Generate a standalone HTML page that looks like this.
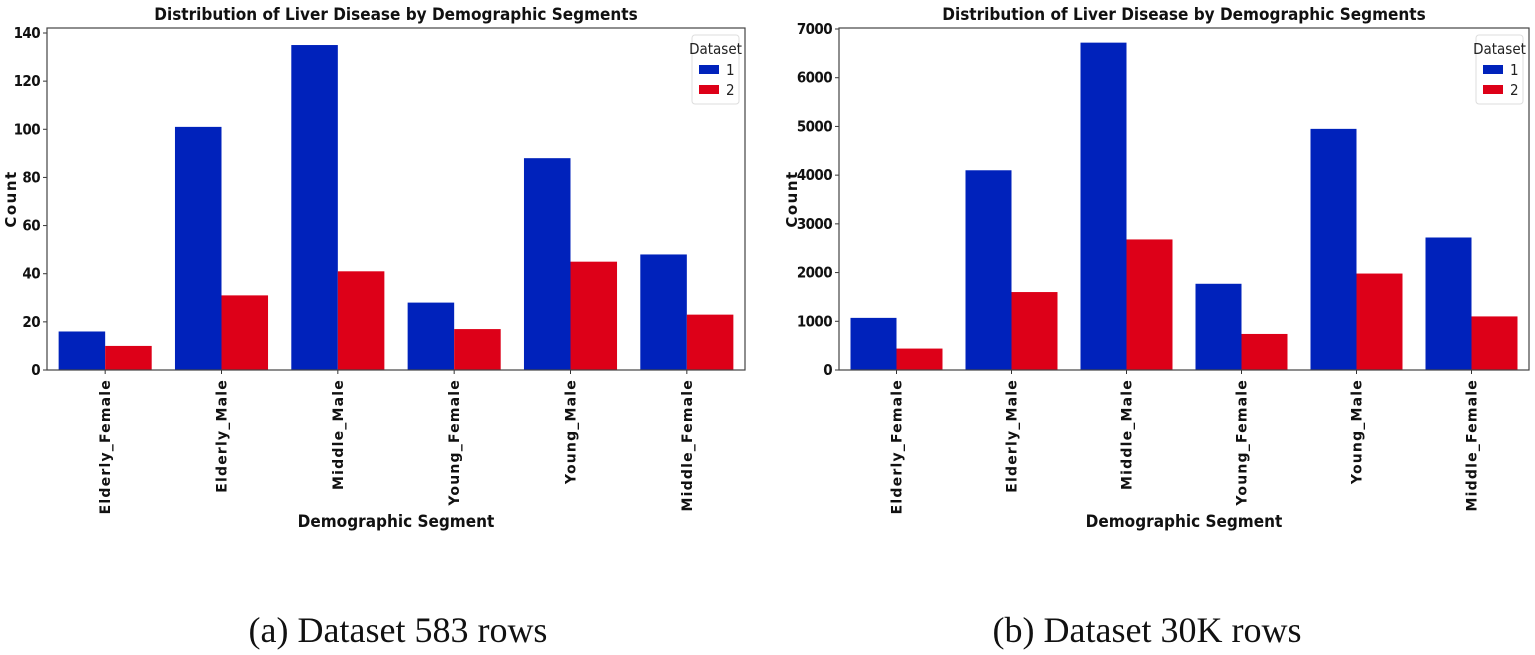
<!DOCTYPE html>
<html><head><meta charset="utf-8"><style>
body{margin:0;background:#fff;width:1535px;height:655px;overflow:hidden}
svg{display:block}
.tk{font-family:"DejaVu Sans Condensed","DejaVu Sans",sans-serif;font-weight:bold;font-size:15px;letter-spacing:-0.6px;fill:#111}
.xl{font-family:"DejaVu Sans","Liberation Sans",sans-serif;font-weight:bold;font-size:14px;letter-spacing:1.2px;fill:#111}
.tt{font-family:"DejaVu Sans Condensed","DejaVu Sans",sans-serif;font-weight:bold;font-size:17px;fill:#111}
.lg{font-family:"DejaVu Sans Condensed","DejaVu Sans",sans-serif;font-size:15px;fill:#222}
.cap{font-family:"Liberation Serif",serif;font-size:36px;fill:#111}
</style></head><body>
<svg id="s" width="1535" height="655">
<text class="cap" x="398" y="642" text-anchor="middle">(a) Dataset 583 rows</text>
<text class="cap" x="1147" y="642" text-anchor="middle">(b) Dataset 30K rows</text>
</svg>
<script>
const categories=["Elderly_Female","Elderly_Male","Middle_Male","Young_Female","Young_Male","Middle_Female"];
const seriesA1=[16,101,135,28,88,48];
const seriesA2=[10,31,41,17,45,23];
const ticksA=[0,20,40,60,80,100,120,140];
const seriesB1=[1070,4100,6720,1770,4950,2720];
const seriesB2=[440,1600,2680,740,1980,1100];
const ticksB=[0,1000,2000,3000,4000,5000,6000,7000];
const NS="http://www.w3.org/2000/svg";
const svg=document.getElementById('s');
function mk(tag,at,txt){const e=document.createElementNS(NS,tag);for(const k in at)e.setAttribute(k,at[k]);if(txt!==undefined)e.textContent=txt;svg.appendChild(e);return e;}
function chart(p,x0,x1,yTop,y0,yMaxVal,yMaxPx,s1,s2,ticks,ytx){
  const y=v=>y0-(y0-yMaxPx)*v/yMaxVal;
  const cw=(x1-x0)/categories.length;
  const xc=i=>x0+cw*(i+0.5);
  categories.forEach((c,i)=>{
    const b=mk('rect',{x:xc(i)-cw*0.4,y:y(s1[i]),width:cw*0.4,height:y0-y(s1[i]),fill:'#0022bb'});
    
    
    const r=mk('rect',{x:xc(i),y:y(s2[i]),width:cw*0.4,height:y0-y(s2[i]),fill:'#dd0018'});
    
    
    mk('line',{x1:xc(i),x2:xc(i),y1:y0,y2:y0+4,stroke:'#333'});
    const t=mk('text',{class:'xl',transform:`translate(${xc(i)+5},${y0+9}) rotate(-90)`,'text-anchor':'end'},c);
    
    
  });
  ticks.forEach(v=>{
    mk('line',{x1:x0-4,x2:x0,y1:y(v),y2:y(v),stroke:'#333'});
    const t=mk('text',{class:'tk',x:x0-7,y:y(v)+5,'text-anchor':'end'},v);
    
    
  });
  const f=mk('rect',{x:x0,y:yTop,width:x1-x0,height:y0-yTop,fill:'none',stroke:'#444','stroke-width':1.2});
  
  
  const ti=mk('text',{class:'tt',x:(x0+x1)/2,y:yTop-8,'text-anchor':'middle'},'Distribution of Liver Disease by Demographic Segments');
  
  
  const xt=mk('text',{class:'tt',x:(x0+x1)/2,y:527,'text-anchor':'middle'},'Demographic Segment');
  
  
  const yt=mk('text',{class:'xl',transform:`translate(${ytx},${(yTop+y0)/2}) rotate(-90)`,'text-anchor':'middle',style:'font-size:15px;letter-spacing:1.5px'},'Count');
  
  
  const lx=x1-53;
  const lg=mk('rect',{x:lx,y:yTop+7,width:47,height:69,fill:'#fff',stroke:'#ddd',rx:3});
  
  
  mk('text',{class:'lg',x:lx+23.5,y:yTop+26,'text-anchor':'middle'},'Dataset');
  mk('rect',{x:lx+7,y:yTop+37,width:20,height:9,fill:'#0022bb'});
  mk('text',{class:'lg',x:lx+34,y:yTop+47},'1');
  mk('rect',{x:lx+7,y:yTop+57,width:20,height:9,fill:'#dd0018'});
  mk('text',{class:'lg',x:lx+34,y:yTop+67},'2');
}
chart('left',47,745,28,370,140,33,seriesA1,seriesA2,ticksA,16);
chart('right',839,1529,28,370,7000,29,seriesB1,seriesB2,ticksB,797);
</script>
</body></html>
